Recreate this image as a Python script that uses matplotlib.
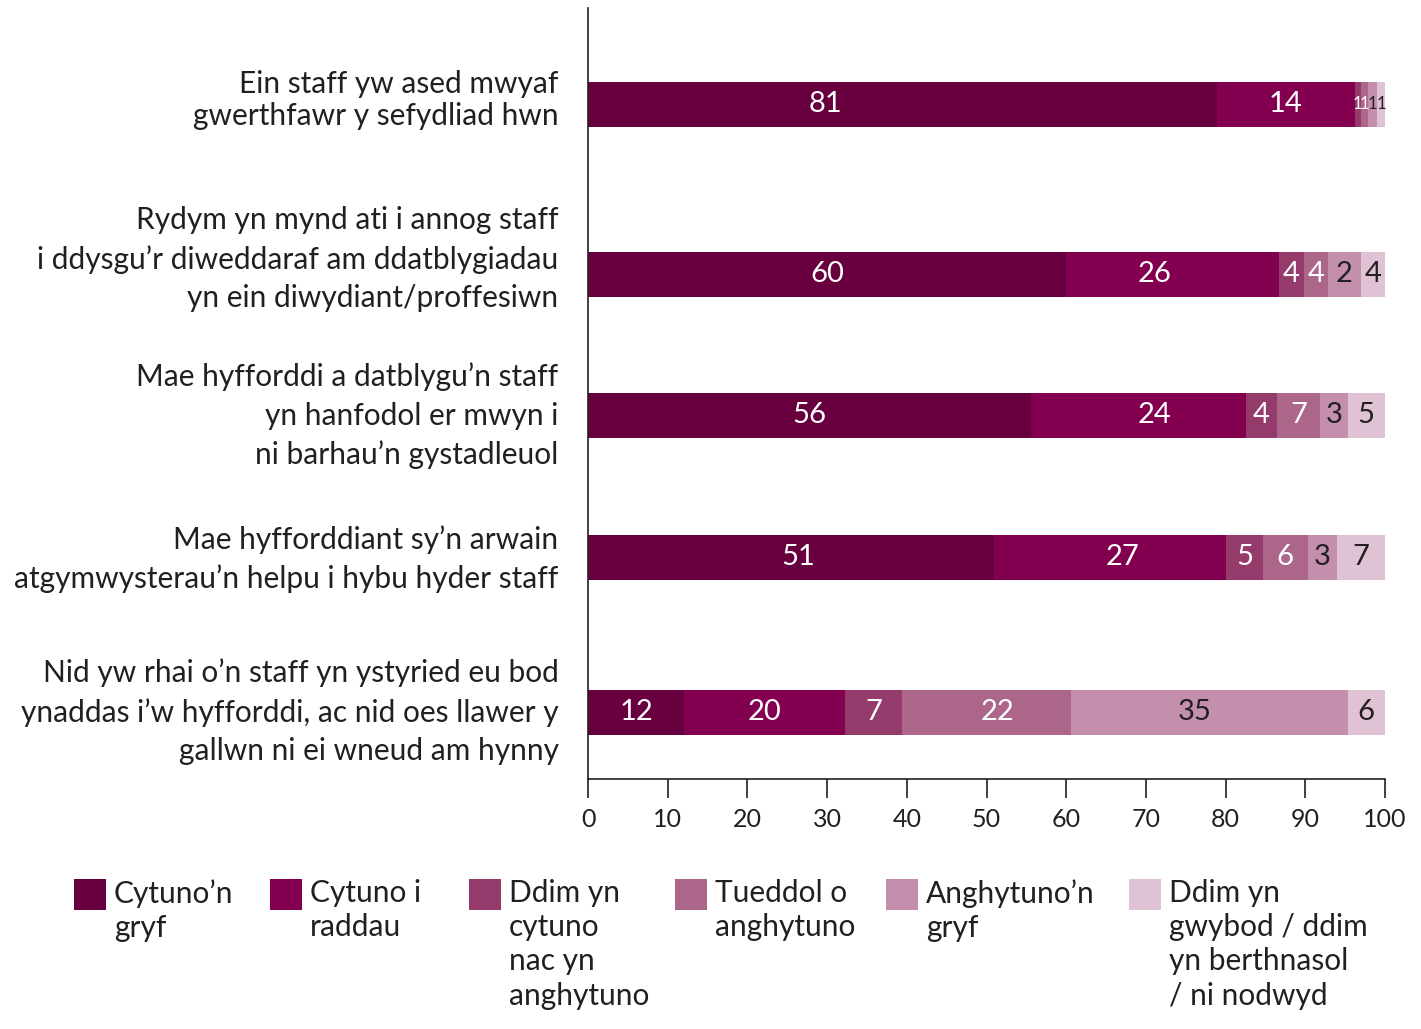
import matplotlib.pyplot as plt
from matplotlib.patches import Rectangle

plt.rcParams['font.family'] = ['Lato', 'DejaVu Sans']

statements = [
    "Ein staff yw ased mwyaf\ngwerthfawr y sefydliad hwn",
    "Rydym yn mynd ati i annog staff\ni ddysgu’r diweddaraf am ddatblygiadau\nyn ein diwydiant/proffesiwn",
    "Mae hyfforddi a datblygu’n staff\nyn hanfodol er mwyn i\nni barhau’n gystadleuol",
    "Mae hyfforddiant sy’n arwain\natgymwysterau’n helpu i hybu hyder staff",
    "Nid yw rhai o’n staff yn ystyried eu bod\nynaddas i’w hyfforddi, ac nid oes llawer y\ngallwn ni ei wneud am hynny",
]

series = [
    "Cytuno’n\ngryf",
    "Cytuno i\nraddau",
    "Ddim yn\ncytuno\nnac yn\nanghytuno",
    "Tueddol o\nanghytuno",
    "Anghytuno’n\ngryf",
    "Ddim yn\ngwybod / ddim\nyn berthnasol\n/ ni nodwyd",
]

# segment widths as drawn (%)
strong_agree = [78.9, 60.0, 55.6, 51.0, 12.1]
agree = [17.3, 26.7, 27.0, 29.1, 20.2]
neither = [0.8, 3.1, 3.8, 4.6, 7.1]
tend_disagree = [0.9, 3.0, 5.5, 5.6, 21.2]
strong_disagree = [1.1, 4.2, 3.4, 3.7, 34.7]
dont_know = [1.0, 3.0, 4.7, 6.0, 4.7]

# printed labels (%)
strong_agree_lbl = [81, 60, 56, 51, 12]
agree_lbl = [14, 26, 24, 27, 20]
neither_lbl = [1, 4, 4, 5, 7]
tend_disagree_lbl = [1, 4, 7, 6, 22]
strong_disagree_lbl = [1, 2, 3, 3, 35]
dont_know_lbl = [1, 4, 5, 7, 6]

widths = [strong_agree, agree, neither, tend_disagree, strong_disagree, dont_know]
labels = [strong_agree_lbl, agree_lbl, neither_lbl, tend_disagree_lbl,
          strong_disagree_lbl, dont_know_lbl]

colors = ["#68003f", "#82004f", "#953b6b", "#ab6689", "#c48fac", "#dfc2d3"]
text_colors = ["white", "white", "white", "white", "#231f20", "#231f20"]
dark = "#231f20"

# label nudges off segment centre (series, row) -> x units
nudge = {(0, 0): -9.6, (0, 3): 0.9, (1, 1): -2.3, (1, 2): 2.0, (1, 3): 1.5,
         (3, 4): 1.4, (4, 4): -1.8}

W, H = 1421, 1029
fig = plt.figure(figsize=(W / 100, H / 100), dpi=100)
ax = fig.add_axes([588 / W, 1 - 779 / H, (1385 - 588) / W, (779 - 8) / H])

# row centres, measured downward from the top of the axes (px)
rows = [96, 266, 407, 549, 704]
label_rows = [92, 251, 408, 551, 704]
label_spacing = [1.16, 1.45, 1.45, 1.45, 1.45]
ax.set_ylim(771, 0)
ax.set_xlim(0, 100)

left = [0] * len(rows)
for si, (w, lb, c, tc) in enumerate(zip(widths, labels, colors, text_colors)):
    ax.barh(rows, w, left=left, height=45, color=c, linewidth=0)
    for ri, (y, x0, wi, v) in enumerate(zip(rows, left, w, lb)):
        fs = 21 if wi > 2 else 12
        ax.text(x0 + wi / 2 + nudge.get((si, ri), 0), y, str(v), ha="center",
                va="center", color=tc, fontsize=fs)
    left = [a + b for a, b in zip(left, w)]

for y, s, ls in zip(label_rows, statements, label_spacing):
    ax.text(-3.7, y, s, ha="right", va="center", fontsize=21.5, color=dark,
            linespacing=ls)

for side in ["top", "right"]:
    ax.spines[side].set_visible(False)
for side in ["left", "bottom"]:
    ax.spines[side].set_color(dark)
    ax.spines[side].set_linewidth(1.2)
ax.set_yticks([])
ax.set_xticks(range(0, 101, 10))
ax.tick_params(axis="x", length=14, width=1.2, color=dark, labelsize=18,
               labelcolor=dark, pad=7)

# legend
leg_x = [74, 270, 469, 675, 886, 1129]
for x, s, c in zip(leg_x, series, colors):
    fig.add_artist(Rectangle((x / W, 1 - 910 / H), 32 / W, 31 / H,
                             transform=fig.transFigure, color=c, lw=0))
    fig.text((x + 40) / W, 1 - 879 / H, s, ha="left", va="top", fontsize=21.5,
             color=dark, linespacing=1.27)

fig.savefig("out.png", dpi=100)
